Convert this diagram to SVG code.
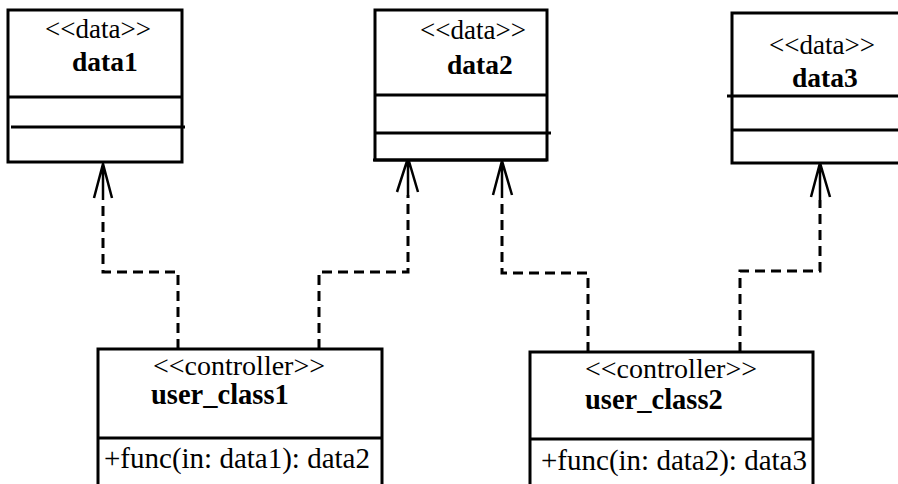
<svg xmlns="http://www.w3.org/2000/svg" width="898" height="484" viewBox="0 0 898 484">
<style>
.box{fill:#fff;stroke:#000;stroke-width:3}
.ln{stroke:#000;stroke-width:3;fill:none}
.dash{stroke:#000;stroke-width:3;fill:none;stroke-dasharray:10 6}
.head{stroke:#000;stroke-width:2.5;fill:none}
text{font-family:'Liberation Serif','Times New Roman',serif;fill:#000}
.st{font-size:27px}
.nm{font-size:27.5px;font-weight:bold}
.ct{font-size:28px}
.cn{font-size:28.5px;font-weight:bold}
.op{font-size:29px}
</style>
<rect width="898" height="484" fill="#fff"/>
<g id="connectors">
<path class="dash" d="M178,349 V272 H103 V200"/>
<path class="head" d="M94,198 L103,164 L112,198 M103,164 V200"/>
<path class="dash" d="M319,349 V272 H408 V195"/>
<path class="head" d="M397,192 L408,158 L418,192 M408,158 V195"/>
<path class="dash" d="M588,352 V273 H502 V198"/>
<path class="head" d="M493,195 L502,161 L512,195 M502,161 V198"/>
<path class="dash" d="M740,352 V271 H820 V200"/>
<path class="head" d="M811,197 L820,163 L830,197 M820,163 V200"/>
</g>
<g id="data1">
<rect class="box" x="8" y="10" width="174" height="152"/>
<line class="ln" x1="8" y1="97" x2="182" y2="97"/>
<line class="ln" x1="11" y1="127" x2="185" y2="127"/>
<text class="st" x="45" y="38">&lt;&lt;data&gt;&gt;</text>
<text class="nm" x="72" y="71">data1</text>
</g>
<g id="data2">
<rect class="box" x="375" y="10" width="172" height="150"/>
<line class="ln" x1="375" y1="95" x2="547" y2="95"/>
<line class="ln" x1="375" y1="133" x2="551" y2="133"/>
<line class="ln" x1="373" y1="160" x2="547" y2="160"/>
<text class="st" x="420" y="39">&lt;&lt;data&gt;&gt;</text>
<text class="nm" x="447" y="74">data2</text>
</g>
<g id="data3">
<rect class="box" x="732" y="13" width="180" height="150"/>
<line class="ln" x1="727" y1="96" x2="898" y2="96"/>
<line class="ln" x1="732" y1="130" x2="898" y2="130"/>
<text class="st" x="769" y="54">&lt;&lt;data&gt;&gt;</text>
<text class="nm" x="792" y="87">data3</text>
</g>
<g id="user_class1">
<rect class="box" x="98" y="349" width="284" height="150"/>
<line class="ln" x1="98" y1="438" x2="382" y2="438"/>
<text class="ct" x="153" y="375">&lt;&lt;controller&gt;&gt;</text>
<text class="cn" x="151" y="404">user_class1</text>
<text class="op" x="104" y="468">+func(in: data1): data2</text>
</g>
<g id="user_class2">
<rect class="box" x="530" y="352" width="283" height="150"/>
<line class="ln" x1="530" y1="439" x2="813" y2="439"/>
<text class="ct" x="585" y="378">&lt;&lt;controller&gt;&gt;</text>
<text class="cn" x="585" y="409">user_class2</text>
<text class="op" x="541" y="470">+func(in: data2): data3</text>
</g>
</svg>
